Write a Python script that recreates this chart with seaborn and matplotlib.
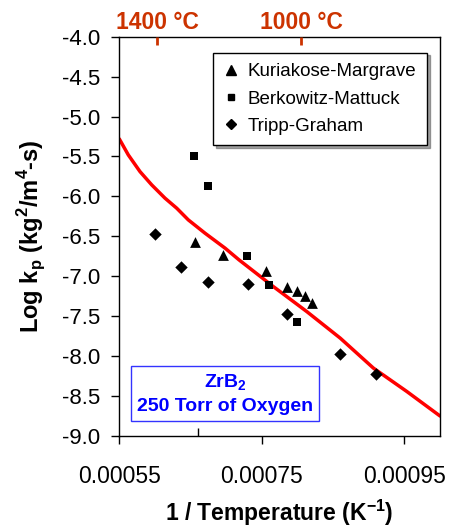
import matplotlib
matplotlib.use("Agg")
import matplotlib.pyplot as plt
import seaborn as sns
import pandas as pd
import numpy as np
from matplotlib.lines import Line2D
from matplotlib.ticker import FixedLocator

# ---- data ----
km_x = [0.000656, 0.000695, 0.000756, 0.000785, 0.000800, 0.000811, 0.000820]
km_y = [-6.57, -6.73, -6.94, -7.13, -7.18, -7.245, -7.34]

bm_x = [0.000655, 0.000675, 0.000729, 0.000760, 0.000800]
bm_y = [-5.49, -5.87, -6.745, -7.11, -7.575]

tg_x = [0.0006005, 0.000636, 0.000675, 0.000730, 0.000785, 0.000860, 0.000910]
tg_y = [-6.47, -6.89, -7.07, -7.095, -7.475, -7.97, -8.22]

line_x = [0.00055, 0.0005626, 0.0005791, 0.0005955, 0.0006141, 0.0006306, 0.0006468,
          0.0006703, 0.0006984, 0.000718, 0.0007661, 0.000813, 0.00086, 0.0009065,
          0.0009534, 0.001]
line_y = [-5.28, -5.48, -5.69, -5.856, -6.022, -6.148, -6.294, -6.461, -6.648, -6.795,
          -7.129, -7.442, -7.775, -8.15, -8.443, -8.75]

top_tick_pos = [0.000603, 0.000805]
top_tick_labels = ["1400 °C", "1000 °C"]

x_ticks = [0.00055, 0.00075, 0.00095]
x_tick_labels = ["0.00055", "0.00075", "0.00095"]
y_ticks = [-4.0, -4.5, -5.0, -5.5, -6.0, -6.5, -7.0, -7.5, -8.0, -8.5, -9.0]

sns.set_theme(style="white")
plt.rcParams['font.family'] = ['Liberation Sans', 'DejaVu Sans']
plt.rcParams['text.color'] = 'black'
plt.rcParams['axes.labelcolor'] = 'black'
plt.rcParams['xtick.color'] = 'black'
plt.rcParams['ytick.color'] = 'black'

fig = plt.figure(figsize=(4.56, 5.30), dpi=100)
ax = fig.add_axes([0.2616, 0.1774, 0.965 - 0.2616, 0.9308 - 0.1774])

sns.lineplot(x=line_x, y=line_y, color="#ff0000", linewidth=2.5, ax=ax, sort=False)

sns.scatterplot(x=km_x, y=km_y, marker="^", s=60, color="black", edgecolor="black",
                linewidth=0, ax=ax, zorder=3)
sns.scatterplot(x=bm_x, y=bm_y, marker="s", s=28, color="black", edgecolor="black",
                linewidth=0, ax=ax, zorder=3)
sns.scatterplot(x=tg_x, y=tg_y, marker="D", s=40, color="black", edgecolor="black",
                linewidth=0, ax=ax, zorder=3)

ax.set_xlim(0.00055, 0.001)
ax.set_ylim(-9.0, -4.0)
ax.set_xticks(x_ticks)
ax.set_xticklabels(x_tick_labels, fontsize=16.5)
ax.set_yticks(y_ticks)
ax.set_yticklabels([f"{v:.1f}" for v in y_ticks], fontsize=16)
ax.xaxis.set_minor_locator(FixedLocator([0.00066]))
ax.tick_params(axis="x", which="major", direction="out", length=6, width=1, color="black",
               labelcolor="black", bottom=True, pad=15)
ax.tick_params(axis="x", which="minor", direction="in", length=6, width=1, color="black",
               bottom=True)
ax.tick_params(axis="y", which="major", direction="out", length=6, width=1, color="black",
               labelcolor="black", left=True, pad=8)
for s in ax.spines.values():
    s.set_color("black")
    s.set_linewidth(1.0)

ax.set_xlabel("1 / Temperature (K$^\\mathregular{-1}$)", fontsize=16.5, fontweight="bold",
              labelpad=7, color="black")
ax.set_ylabel("Log k$_\\mathregular{p}$ (kg$^\\mathregular{2}$/m$^\\mathregular{4}$-s)",
              fontsize=17, fontweight="bold", labelpad=10, color="black")

# top axis
ax2 = ax.twiny()
ax2.set_xlim(ax.get_xlim())
ax2.set_xticks(top_tick_pos)
ax2.set_xticklabels(top_tick_labels, fontsize=16.5, fontweight="bold", color="#cc3300")
ax2.tick_params(axis="x", direction="in", length=6, width=2, color="#cc3300", top=True, pad=2)
for s in ax2.spines.values():
    s.set_visible(False)

# legend
handles = [
    Line2D([], [], marker="^", color="black", linestyle="none", markersize=7),
    Line2D([], [], marker="s", color="black", linestyle="none", markersize=5),
    Line2D([], [], marker="D", color="black", linestyle="none", markersize=5),
]
labels = ["Kuriakose-Margrave", "Berkowitz-Mattuck", "Tripp-Graham"]
leg = ax.legend(handles, labels, loc="upper right", bbox_to_anchor=(0.959, 0.96),
                borderaxespad=0, fontsize=13.5, frameon=True, fancybox=False, shadow=True,
                handlelength=0.8, handletextpad=0.5, labelspacing=0.55, borderpad=0.55)
leg.get_frame().set_edgecolor("black")
leg.get_frame().set_linewidth(1.0)
for t in leg.get_texts():
    t.set_color("black")

# annotation box
ax.text(0.33, 0.105, "ZrB$_\\mathregular{2}$\n250 Torr of Oxygen", transform=ax.transAxes,
        ha="center", va="center", fontsize=14, fontweight="bold", color="#0000ff",
        linespacing=1.4, multialignment="center",
        bbox=dict(boxstyle="square,pad=0.3", facecolor="white", edgecolor="#3333ff", linewidth=1))

fig.savefig("out.png", dpi=100)
